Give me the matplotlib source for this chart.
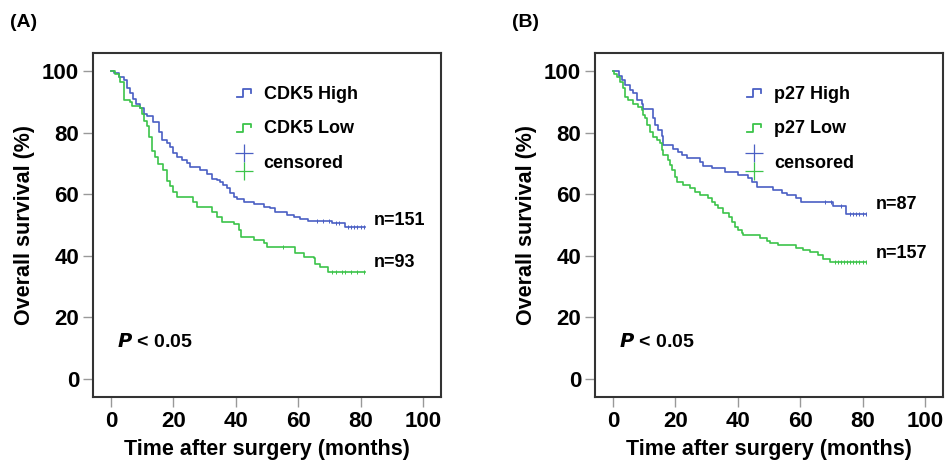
import numpy as np
import matplotlib
matplotlib.use("Agg")
import matplotlib.pyplot as plt
from matplotlib.lines import Line2D
from matplotlib.legend_handler import HandlerBase

plt.rcParams['font.family'] = ['Liberation Sans', 'DejaVu Sans']
plt.rcParams['font.weight'] = 'bold'

BLUE = '#4a5fc4'
GREEN = '#3cc44a'

# ---- Panel A data (CDK5) ----
cdk5_high_t = [0, 1, 2.7, 4, 5, 6, 7, 8, 9.3, 10.4, 11.4, 13.6, 15.5, 16.3, 17.9, 19, 20, 21,
               22.7, 24.3, 25.3, 28.5, 30.7, 32.3, 34, 35, 36, 37.1, 38.2, 39.3, 40.3, 42.5,
               45.7, 48.9, 51, 52.6, 56.4, 58.5, 60.6, 63.3, 70.8, 75, 81.5]
cdk5_high_s = [100, 99.3, 98, 97, 94.6, 92.7, 91, 89.4, 87.8, 86, 85.3, 83.5, 80.2, 77.5, 76.5,
               75.4, 73.2, 72, 71, 70, 68.9, 67.8, 66.7, 65, 64.6, 64, 63, 61.9, 60.3, 59.2, 58.4,
               57.5, 56.8, 55.9, 55.4, 54.3, 53.2, 52.6, 52.1, 51.4, 50.5, 49.3, 49.3]
cdk5_high_cens = [66, 68, 70, 72, 73, 76, 77, 78, 79, 80, 81]

cdk5_low_t = [0, 1.3, 2.4, 3, 4, 6, 6.6, 9.3, 9.8, 10.4, 11.4, 12, 13, 14.1, 15.2, 16.8, 17.9,
              19, 20, 21, 26.4, 27.5, 32.3, 34, 35.5, 39.3, 40.9, 41.5, 45.7, 48.9, 50, 59,
              61.8, 65, 65.5, 67, 69.7, 81.5]
cdk5_low_s = [100, 99, 98, 96.4, 90.5, 90, 88.6, 87.8, 86, 83.8, 82.2, 78.4, 74.1, 72, 69.8,
              67.7, 64.4, 62.8, 60.6, 59, 57.4, 55.8, 54.2, 52.6, 51, 50.4, 48.3, 46.1, 45, 44,
              42.9, 40.8, 39.7, 39.2, 37.5, 36.5, 34.8, 34.8]
cdk5_low_cens = [55, 71, 72, 74, 75, 77, 79, 81]

# ---- Panel B data (p27) ----
p27_high_t = [0, 2, 2.8, 3.8, 5.4, 6.5, 7.6, 9.2, 9.7, 12.9, 13.4, 14.5, 15.6, 16.1, 19.3, 20.9,
              22, 23.6, 27.9, 28.9, 31.6, 35.9, 40.1, 43.3, 44.4, 46, 51.3, 54, 55.6, 58.8,
              60.4, 70.5, 74.8, 81.2]
p27_high_s = [100, 98.3, 97, 95.4, 93.7, 92.7, 90.7, 89.4, 87.5, 84.6, 82.4, 80.8, 78.8, 75.9,
              74.8, 73.8, 72.7, 71.6, 70.5, 69.2, 68.4, 67.3, 66.2, 65.1, 64, 62.2, 61.3, 60.5,
              59.7, 58.9, 57.6, 56.2, 53.6, 53.6]
p27_high_cens = [68, 70, 73, 76, 77, 78, 79, 80, 81]

p27_low_t = [0, 0.3, 1.2, 2.2, 3.3, 3.8, 4.9, 6.5, 8.1, 9.2, 9.7, 10.2, 10.8, 11.8, 12.7, 14,
             15, 15.6, 16.1, 17.7, 18.2, 18.8, 19.8, 20.4, 22.5, 24.7, 26.3, 27.9, 30.5, 31.6,
             32.7, 33.7, 35.3, 37, 38, 39.1, 40.1, 41.2, 41.7, 47.1, 49.2, 50.3, 52.9, 58.8,
             61, 63.1, 65.7, 67.3, 69.5, 81.2]
p27_low_s = [100, 99, 98, 96.4, 94.3, 91.6, 90.5, 89.4, 88.3, 87.3, 85.6, 84.6, 82.4, 80.2,
             78.6, 77.5, 76.5, 74.3, 72.7, 71, 69.4, 67.8, 65.7, 64, 63, 61.9, 60.8, 59.7,
             58.6, 57.6, 56.5, 55.4, 53.8, 52.7, 51, 49.5, 48.4, 47.3, 46.8, 45.7, 44.9, 44,
             43.5, 42.4, 41.8, 41.3, 40.2, 39.1, 38, 38]
p27_low_cens = [71, 72, 73, 74, 75, 76, 77, 78, 79, 80, 81]

x_ticks = [0, 20, 40, 60, 80, 100]
y_ticks = [0, 20, 40, 60, 80, 100]


class StepHandler(HandlerBase):
    def create_artists(self, legend, orig_handle, xdescent, ydescent, width, height,
                       fontsize, trans):
        x0 = -xdescent
        y0 = -ydescent
        lo = y0 + 0.1 * height
        hi = y0 + 0.75 * height
        xs = [x0, x0 + 0.45 * width, x0 + 0.45 * width, x0 + width, x0 + width]
        ys = [lo, lo, hi, hi, y0 + 0.45 * height]
        ln = Line2D(xs, ys, color=orig_handle.get_color(), lw=1.3, transform=trans)
        return [ln]


class CensHandler(HandlerBase):
    def create_artists(self, legend, orig_handle, xdescent, ydescent, width, height,
                       fontsize, trans):
        cx = -xdescent + 0.5 * width
        cy = -ydescent + height / 2
        m1 = Line2D([cx], [cy + 5.8], marker='+', ms=13, mew=0.9, color=BLUE,
                    linestyle='none', transform=trans)
        m2 = Line2D([cx], [cy - 7.2], marker='+', ms=13, mew=0.9, color=GREEN,
                    linestyle='none', transform=trans)
        return [m1, m2]


class CensProxy:
    pass


def step_value(t, s, x):
    idx = np.searchsorted(np.asarray(t), x, side='right') - 1
    return np.asarray(s)[idx]


def panel(ax, hi_t, hi_s, hi_c, lo_t, lo_s, lo_c, hi_lab, lo_lab, n_hi, n_lo,
          n_hi_y, n_lo_y, letter, leg_x):
    ax.step(hi_t, hi_s, where='post', color=BLUE, lw=1.2)
    ax.step(lo_t, lo_s, where='post', color=GREEN, lw=1.2)
    ax.plot(hi_c, step_value(hi_t, hi_s, hi_c), linestyle='none', marker='|',
            ms=2.5, mew=0.7, color=BLUE)
    ax.plot(lo_c, step_value(lo_t, lo_s, lo_c), linestyle='none', marker='|',
            ms=2.5, mew=0.7, color=GREEN)
    ax.set_xlim(-5.8, 105.8)
    ax.set_ylim(-5.8, 105.8)
    ax.set_xticks(x_ticks)
    ax.set_yticks(y_ticks)
    ax.tick_params(axis='both', direction='out', length=7.5, width=1, color='#999999',
                   labelsize=16, pad=2.5)
    for lab in ax.get_xticklabels() + ax.get_yticklabels():
        lab.set_fontweight('bold')
    for sp in ax.spines.values():
        sp.set_color('#333333')
        sp.set_linewidth(1.5)
    ax.set_xlabel('Time after surgery (months)', fontsize=15.5, fontweight='bold', labelpad=5)
    ax.set_ylabel('Overall survival (%)', fontsize=15.5, fontweight='bold', labelpad=5)

    h1 = Line2D([], [], color=BLUE)
    h2 = Line2D([], [], color=GREEN)
    h3 = CensProxy()
    ax.legend([h1, h2, h3], [hi_lab, lo_lab, 'censored'],
              handler_map={Line2D: StepHandler(), CensProxy: CensHandler()},
              frameon=False, loc='upper left', bbox_to_anchor=(leg_x, 0.926),
              prop={'size': 13, 'weight': 'bold'}, labelspacing=0.97,
              handlelength=0.78, handletextpad=0.7, borderaxespad=0)

    ax.text(84.3, n_hi_y, n_hi, fontsize=13, fontweight='bold', va='center', ha='left')
    ax.text(84.3, n_lo_y, n_lo, fontsize=13, fontweight='bold', va='center', ha='left')
    ax.text(2, 12, r'$\mathbfit{P}$ < 0.05', fontsize=14, fontweight='bold',
            va='center', ha='left')
    ax.text(-0.238, 1.09, letter, transform=ax.transAxes, fontsize=14,
            fontweight='bold', va='center', ha='left')


fig = plt.figure(figsize=(9.46, 4.66), dpi=100)
axA = fig.add_axes([0.0983, 0.1481, 0.3679, 0.7382])
axB = fig.add_axes([0.629, 0.1481, 0.3679, 0.7382])

panel(axA, cdk5_high_t, cdk5_high_s, cdk5_high_cens, cdk5_low_t, cdk5_low_s, cdk5_low_cens,
      'CDK5 High', 'CDK5 Low', 'n=151', 'n=93', 51.3, 37.7, '(A)', 0.393)
panel(axB, p27_high_t, p27_high_s, p27_high_cens, p27_low_t, p27_low_s, p27_low_cens,
      'p27 High', 'p27 Low', 'n=87', 'n=157', 56.8, 40.6, '(B)', 0.416)

fig.savefig('out.png', dpi=100)
